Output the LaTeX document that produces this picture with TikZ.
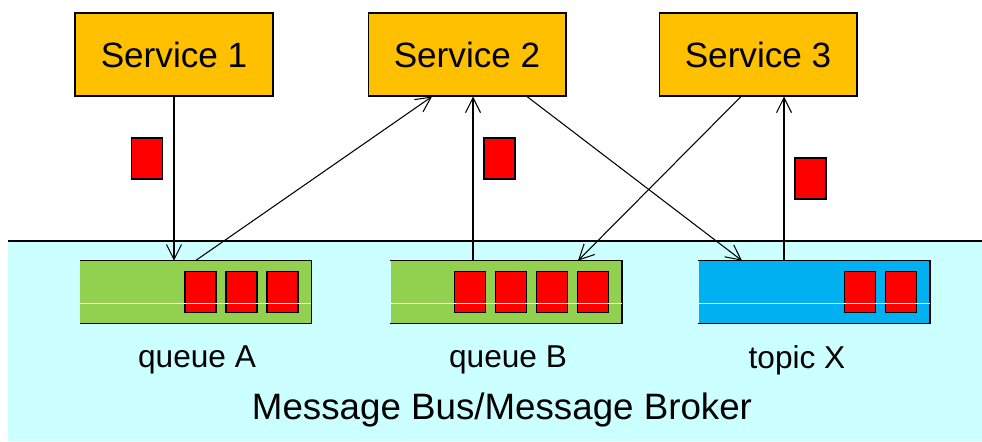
\documentclass[tikz,border=0pt]{standalone}
\usepackage{fontspec}
\setmainfont{Liberation Sans}
\usetikzlibrary{arrows.meta}

\definecolor{svcorange}{HTML}{FFC000}
\definecolor{qgreen}{HTML}{92D050}
\definecolor{tblue}{HTML}{00B0F0}
\definecolor{msgred}{HTML}{FF0000}
\definecolor{buscyan}{HTML}{CCFFFF}

\tikzset{
  service/.style={draw, line width=0.6pt, fill=svcorange, minimum width=3.96cm, minimum height=1.66cm, inner sep=0pt, font=\fontsize{20}{24}\selectfont},
  queue/.style={minimum width=4.62cm, minimum height=1.24cm, inner sep=0pt},
  msg/.style={draw, line width=0.9pt, fill=msgred, minimum width=0.62cm, minimum height=0.82cm, inner sep=0pt},
  qlabel/.style={font=\fontsize{18}{22}\selectfont},
  link/.style={-{Straight Barb[length=3mm,width=3mm]}, line width=0.6pt},
}

\begin{document}
\begin{tikzpicture}[x=0.02cm,y=-0.02cm]
	\useasboundingbox (0,0) rectangle (982,441);
	% the bus
	\fill[buscyan] (8,241) rectangle (982,441);
	\draw[line width=0.8pt] (8,241) -- (982,241);
	\node[font=\fontsize{20.9}{24}\selectfont] (bus) at (502,410) {Message Bus/Message Broker};

	% services
	\node[service] (s1) at (174,54.5) {Service 1};
	\node[service] (s2) at (467,54.5) {Service 2};
	\node[service] (s3) at (758,54.5) {Service 3};

	% queues and topic
	\node[queue, fill=qgreen] (qa) at (195.5,292) {};
	\node[queue, fill=qgreen] (qb) at (506,292) {};
	\node[queue, fill=tblue] (tx) at (814,292) {};
	\foreach \q in {qa,qb,tx}
		\draw[line width=0.9pt] (\q.north west) -- (\q.north east) -- (\q.south east) -- (\q.south west);
	\foreach \k in {0,1,2}
		\node[msg] (qa\k) at ([xshift=-0.58cm-\k*0.82cm]qa.east) {};
	\foreach \k in {0,1,2,3}
		\node[msg] (qb\k) at ([xshift=-0.58cm-\k*0.82cm]qb.east) {};
	\foreach \k in {0,1}
		\node[msg] (tx\k) at ([xshift=-0.58cm-\k*0.82cm]tx.east) {};
	\foreach \q in {qa,qb,tx}
		\draw[white, line width=0.5pt] ([yshift=-0.22cm]\q.west) -- ([yshift=-0.22cm]\q.east);

	\node[qlabel] (la) at (197,360) {queue A};
	\node[qlabel] (lb) at (508,360) {queue B};
	\node[qlabel] (lx) at (797,360) {topic X};

	% messages in flight
	\node[msg] (m1) at (147,158.5) {};
	\node[msg] (m2) at (499.5,158.5) {};
	\node[msg] (m3) at (810.5,178.5) {};

	% connectors
	\draw[link] (s1.south) -- (s1.south |- qa.north);
	\draw[link] (qa.north) -- ([xshift=-0.7cm]s2.south);
	\draw[link] ([xshift=-0.66cm]qb.north) -- ([xshift=-0.66cm]qb.north |- s2.south);
	\draw[link] ([xshift=1.2cm]s2.south) -- ([xshift=-1.44cm]tx.north);
	\draw[link] ([xshift=-0.34cm]s3.south) -- ([xshift=1.44cm]qb.north);
	\draw[link] ([xshift=-0.6cm]tx.north) -- ([xshift=-0.6cm]tx.north |- s3.south);
\end{tikzpicture}
\end{document}
